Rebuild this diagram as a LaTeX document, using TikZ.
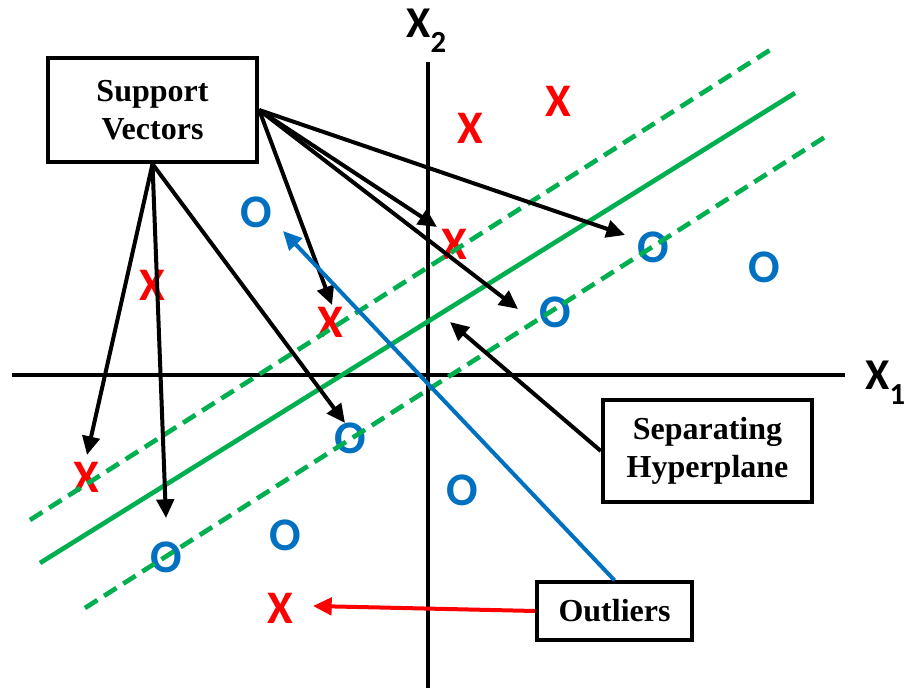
\documentclass[tikz,border=0pt]{standalone}
\usepackage{fontspec}
\setmainfont{Liberation Serif}
\newfontfamily\markfont{Carlito}
\usetikzlibrary{arrows.meta}

\definecolor{svmRed}{RGB}{255,0,0}
\definecolor{svmBlue}{RGB}{0,112,192}
\definecolor{svmGreen}{RGB}{0,176,80}

\tikzset{
  labelbox/.style={draw,line width=3pt,fill=white,align=center,inner sep=0pt,
    font=\bfseries\fontsize{24}{29}\selectfont},
  xmark/.style={text=svmRed,inner sep=0pt,font=\markfont\bfseries\fontsize{35}{35}\selectfont},
  omark/.style={text=svmBlue,inner sep=0pt,font=\markfont\bfseries\fontsize{35}{35}\selectfont},
  axislabel/.style={inner sep=0pt,anchor=base west,font=\markfont\bfseries\fontsize{33}{33}\selectfont},
  pointer/.style={line width=3pt,-{Triangle[length=14pt,width=13pt]}},
  margin/.style={svmGreen,line width=3.5pt,dash pattern=on 11pt off 6pt},
}

\begin{document}
\begin{tikzpicture}[x=0.75pt,y=-0.75pt]
\useasboundingbox (0,0) rectangle (907,691);

% axes
\draw[line width=3.5pt] (12,375) -- (845,375);
\draw[line width=3.5pt] (428,62) -- (428,688);
\node[axislabel] (xtwo) at (406,38) {X\raisebox{-11pt}{\fontsize{23}{23}\selectfont 2}};
\node[axislabel] (xone) at (865,390) {X\raisebox{-11pt}{\fontsize{23}{23}\selectfont 1}};

% class X
\node[xmark] (xa) at (470,128) {X};
\node[xmark] (xb) at (558,101) {X};
\node[xmark] (xc) at (152,285) {X};
\node[xmark] (xd) at (330,322) {X};
\node[xmark] (xe) at (454,244) {X};
\node[xmark] (xf) at (86,477) {X};
\node[xmark] (xg) at (280,608) {X};

% class O
\node[omark] (oa) at (256,212) {O};
\node[omark] (ob) at (653,247) {O};
\node[omark] (oc) at (764,267) {O};
\node[omark] (od) at (555,312) {O};
\node[omark] (oe) at (350,438) {O};
\node[omark] (of) at (462,490) {O};
\node[omark] (og) at (285,535) {O};
\node[omark] (oh) at (166,557) {O};

% hyperplane and margins
\draw[svmGreen,line width=3.5pt] (40,563) -- (795,93);
\draw[margin] (30,520) -- (770,50);
\draw[margin] (85,608) -- (825,137);

% boxes
\node[labelbox,minimum width=157pt,minimum height=78pt] (sv) at (152.5,110) {Support\\Vectors};
\node[labelbox,minimum width=157pt,minimum height=76pt] (sh) at (707.5,451) {Separating\\Hyperplane};
\node[labelbox,minimum width=116pt,minimum height=43pt] (out) at (614.5,611) {Outliers};

% arrow tips
\coordinate (tf) at (87,455);
\coordinate (th) at (166,518);
\coordinate (te) at (345,423);
\coordinate (td) at (332,305);
\coordinate (tx) at (437,227);
\coordinate (tdd) at (518,309);
\coordinate (tb) at (625,235);
\coordinate (tsh) at (450,322);
\coordinate (toa) at (283,231);
\coordinate (txg) at (313,606);

% support vectors
\draw[pointer] (sv.south) -- (tf);
\draw[pointer] (sv.south) -- (th);
\draw[pointer] (sv.south) -- (te);
\draw[pointer] (sv.east) -- (td);
\draw[pointer] (sv.east) -- (tx);
\draw[pointer] (sv.east) -- (tdd);
\draw[pointer] (sv.east) -- (tb);

% hyperplane and outliers
\draw[pointer] (sh.west) -- (tsh);
\draw[pointer,svmBlue] (out.north) -- (toa);
\draw[pointer,svmRed] (out.west) -- (txg);
\end{tikzpicture}
\end{document}
